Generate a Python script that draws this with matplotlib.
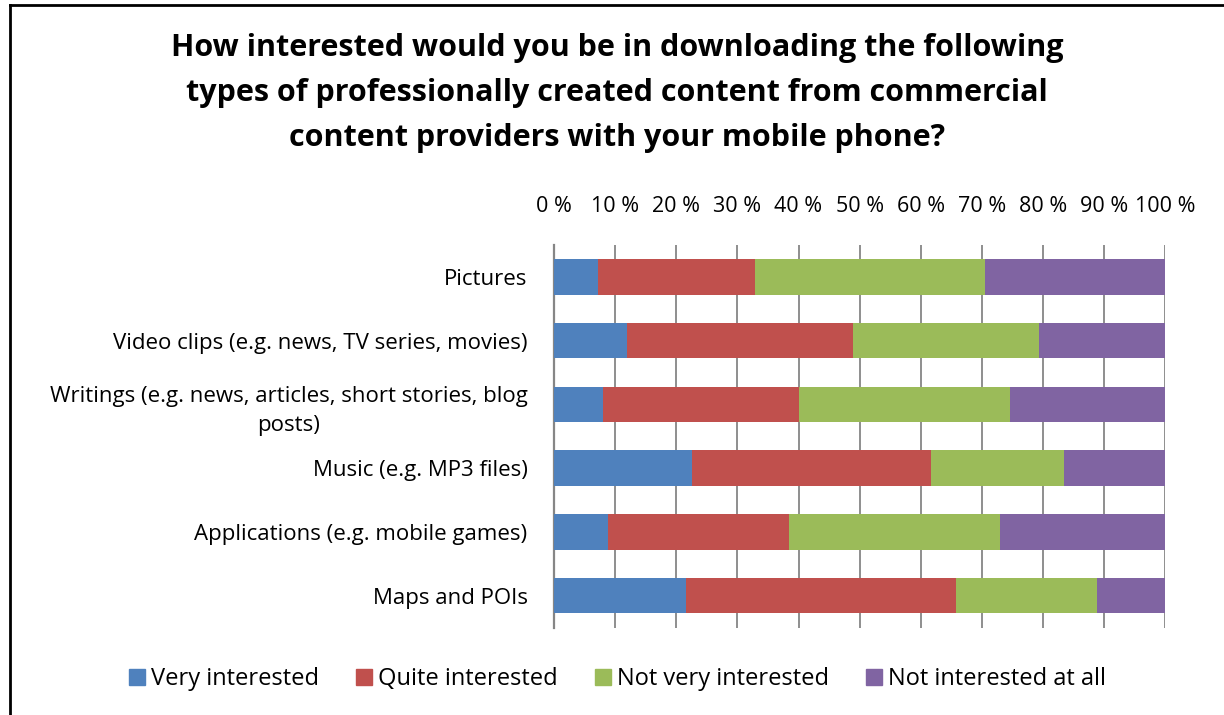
import numpy as np
import matplotlib
matplotlib.use("Agg")
import matplotlib.pyplot as plt
from matplotlib.lines import Line2D

plt.rcParams['font.family'] = ['Open Sans', 'DejaVu Sans']

# data (percent)
categories = [
    "Pictures",
    "Video clips (e.g. news, TV series, movies)",
    "Writings (e.g. news, articles, short stories, blog\nposts)",
    "Music (e.g. MP3 files)",
    "Applications (e.g. mobile games)",
    "Maps and POIs",
]
very_interested = [7.2, 12.0, 8.0, 22.5, 8.8, 21.6]
quite_interested = [25.6, 36.9, 32.0, 39.2, 29.7, 44.1]
not_very_interested = [37.7, 30.4, 34.6, 21.7, 34.4, 23.2]
not_interested_at_all = [29.5, 20.7, 25.4, 16.6, 27.1, 11.1]

series_names = ["Very interested", "Quite interested",
                "Not very interested", "Not interested at all"]
series_colors = ["#4F81BD", "#C0504D", "#9BBB59", "#8064A2"]
tick_labels = [f"{v} %" for v in range(0, 101, 10)]

title = ("How interested would you be in downloading the following\n"
         "types of professionally created content from commercial\n"
         "content providers with your mobile phone?")

W, H = 1224, 715
fig = plt.figure(figsize=(W / 100, H / 100), dpi=100)
ax = fig.add_axes([554 / W, 1 - 627.5 / H, (1165.3 - 554) / W, (627.5 - 245) / H])

y = np.arange(len(categories))
left = np.zeros(len(categories))
for vals, name, col in zip([very_interested, quite_interested,
                            not_very_interested, not_interested_at_all],
                           series_names, series_colors):
    ax.barh(y, vals, left=left, height=0.56, color=col, label=name, zorder=3)
    left += np.array(vals)

ax.set_xlim(0, 100)
ax.set_ylim(len(categories) - 0.5, -0.5)
ax.set_xticks(np.arange(0, 101, 10))
ax.set_xticklabels(tick_labels)
ax.xaxis.tick_top()
ax.tick_params(axis='x', length=0, pad=20, labelsize=15.5)
ax.set_yticks(y)
ax.set_yticklabels(categories, fontsize=16, multialignment='center',
                   linespacing=1.5)
ax.tick_params(axis='y', length=0, pad=19)
ax.grid(axis='x', color='#868686', linewidth=1.3, zorder=0)
for s in ['top', 'right', 'bottom']:
    ax.spines[s].set_visible(False)
ax.spines['left'].set_color('#868686')
ax.spines['left'].set_linewidth(1.6)

fig.text(617 / W, 1 - 93 / H, title, ha='center', va='center',
         fontsize=22, fontweight='bold', linespacing=1.65)

# legend
handles = [Line2D([], [], marker='s', linestyle='none', markersize=11,
                  markerfacecolor=c, markeredgecolor=c) for c in series_colors]
fig.legend(handles, series_names, loc='center', bbox_to_anchor=(617 / W, 1 - 679 / H),
           ncol=4, frameon=False, fontsize=17, handletextpad=0.2,
           columnspacing=1.5, handlelength=0.8)

# chart-area border (left and top)
fig.add_artist(Line2D([9.5 / W, 9.5 / W], [0, 1 - 5 / H], color='black',
                      linewidth=2, transform=fig.transFigure))
fig.add_artist(Line2D([9.5 / W, 1], [1 - 5 / H, 1 - 5 / H], color='black',
                      linewidth=2, transform=fig.transFigure))

fig.savefig("out.png", dpi=100)
